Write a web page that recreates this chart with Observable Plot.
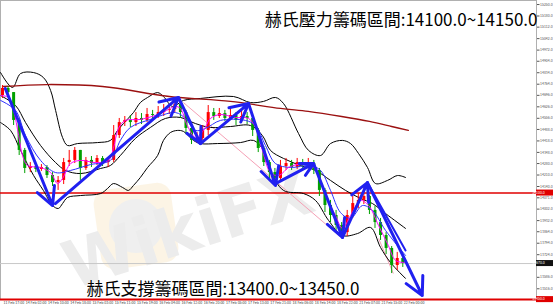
<!DOCTYPE html>
<html><head><meta charset="utf-8">
<script src="https://cdn.jsdelivr.net/npm/d3@7"></script>
<script src="https://cdn.jsdelivr.net/npm/@observablehq/plot@0.6"></script>
<style>html,body{margin:0;padding:0;background:#fff;} svg{display:block;}</style>
</head><body><div id="chart"></div>
<script>
// ---- candles (2-hour bars, hour index = 2*i) ----
const candleOpen = [14695,14738,14713,14543,14360,14250,14262,14244,14256,14207,14164,14177,14286,14299,14360,14250,14299,14280,14311,14286,14299,14451,14530,14543,14530,14555,14543,14579,14573,14591,14604,14610,14640,14591,14494,14421,14433,14482,14591,14567,14585,14555,14573,14543,14567,14555,14482,14372,14286,14225,14189,14262,14280,14256,14286,14268,14280,14238,14116,14024,13963,13902,13859,13963,14036,14055,14079,13994,13920,13841,13762,13658,13701];
const candleClose = [14738,14713,14543,14360,14250,14262,14244,14256,14207,14164,14177,14286,14299,14360,14250,14299,14280,14311,14286,14299,14451,14530,14543,14530,14555,14543,14579,14573,14591,14604,14610,14640,14591,14494,14421,14433,14482,14591,14567,14585,14555,14573,14543,14567,14555,14482,14372,14286,14225,14189,14262,14280,14256,14286,14268,14280,14238,14116,14024,13963,13902,13859,13963,14036,14055,14079,13994,13920,13841,13762,13658,13701,13670];
const candleHigh = [14756,14750,14713,14555,14372,14286,14280,14274,14268,14225,14201,14311,14360,14378,14360,14317,14323,14329,14323,14317,14512,14555,14567,14573,14591,14585,14616,14604,14628,14640,14640,14671,14665,14604,14512,14469,14512,14634,14616,14616,14604,14610,14591,14604,14591,14567,14494,14384,14299,14250,14299,14311,14299,14311,14305,14311,14299,14250,14128,14055,13994,13920,13994,14079,14097,14146,14085,14018,13945,13859,13774,13738,13719];
const candleLow = [14677,14689,14512,14329,14219,14225,14225,14232,14189,14140,14116,14152,14262,14280,14177,14238,14256,14268,14262,14256,14286,14433,14506,14500,14506,14518,14530,14543,14555,14567,14579,14591,14555,14457,14396,14402,14421,14451,14543,14555,14537,14543,14512,14530,14518,14445,14347,14262,14177,14152,14177,14238,14238,14244,14250,14250,14213,14079,13981,13920,13872,13823,13835,13945,14006,14030,13969,13884,13811,13725,13609,13628,13646];
const hoursPerBar = 2;

// ---- indicators (hour index, price) ----
const maLongH = [0,16,36,60,82,100,110,122,132,140,146];
const maLongV = [14750,14762,14750,14689,14659,14616,14598,14567,14537,14506,14482];
const bbUpperH = [-0.7,3.6,6.5,11.2,14.7,17.3,19.1,21.6,23.4,27.0,34.2,38.8,41.4,43.5,47.1,49.6,52.2,55.8,57.9,61.2,65.1,71.2,83.1,89.2,93.9,98.2,101.1,106.5,110.1,114.4,118.0,122.3,125.2,128.1,131.3,134.2,138.5,142.1,145.0];
const bbUpperV = [14835,14744,14829,14835,14805,14726,14604,14439,14390,14402,14408,14421,14482,14524,14591,14652,14683,14713,14689,14628,14665,14677,14689,14652,14659,14683,14646,14463,14360,14329,14402,14421,14402,14341,14256,14158,14177,14207,14195];
const bbMidH = [-0.7,4.7,8.3,13.7,19.1,22.7,28.1,35.3,38.8,42.4,47.8,53.2,58.6,64.0,69.4,74.8,82.0,89.2,93.5,96.4,101.1,107.2,112.6,118.0,123.4,128.8,133.1,137.8,145.0];
const bbMidV = [14695,14634,14530,14390,14286,14238,14219,14250,14268,14329,14433,14500,14555,14561,14524,14500,14506,14512,14451,14360,14311,14268,14238,14177,14116,14067,14036,13975,13884];
const bbLowerH = [-0.7,2.9,6.5,11.2,14.7,18.0,20.1,21.6,23.4,28.1,35.3,37.8,39.9,43.2,45.3,47.1,49.6,52.2,55.8,57.9,60.4,62.9,65.1,68.7,71.2,77.3,85.6,90.3,93.9,96.4,101.1,108.3,112.6,117.3,122.3,127.7,132.4,136.0,139.6,145.0];
const bbLowerV = [14530,14482,14360,14207,14116,14024,14006,14036,14073,14085,14097,14128,14158,14134,14116,14146,14195,14256,14329,14421,14469,14482,14476,14421,14402,14402,14408,14421,14360,14238,14116,14097,14055,13933,13841,13853,13890,13768,13676,13579];
const maFastH = [-0.7,2.2,4.0,5.8,7.2,9.0,13.7,17.3,19.8,21.6,24.5,28.1,33.5,38.1,39.9,41.7,44.2,49.6,56.8,62.2,64.0,66.5,69.4,72.3,74.8,78.4,83.8,88.5,91.0,93.5,96.4,99.3,103.6,110.8,113.7,116.2,119.8,122.3,125.2,128.8,131.7,135.3,138.8,141.4,145.0];
const maFastV = [14695,14683,14604,14451,14329,14268,14256,14225,14158,14189,14280,14299,14286,14299,14372,14494,14543,14549,14585,14628,14616,14512,14439,14482,14555,14579,14561,14555,14500,14360,14225,14207,14262,14274,14207,14085,13963,13884,13963,14055,14024,13902,13780,13689,13676];
const maMidH = [-0.7,4.7,8.3,13.7,19.1,24.5,31.7,38.8,42.4,46.0,53.2,62.2,65.8,69.4,73.0,78.4,87.4,91.0,94.6,98.2,103.6,110.8,114.4,118.0,121.6,125.2,129.5,133.1,137.8,145.0];
const maMidV = [14665,14604,14451,14299,14225,14238,14274,14299,14421,14500,14549,14591,14555,14482,14494,14543,14543,14512,14390,14280,14256,14268,14238,14116,13981,13945,14024,13994,13872,13719];

// ---- drawn arrows & trend lines ----
const arrowFromH = [1, 19, 63.3, 71.2, 88.5, 98.2, 111.9, 122.3, 131.3];
const arrowFromV = [14738, 14036, 14683, 14402, 14646, 14158, 14280, 13829, 14164];
const arrowToH = [18, 63.3, 71.2, 88.5, 98.2, 111.9, 122.3, 131.3, 151];
const arrowToV = [14024, 14683, 14402, 14646, 14146, 14280, 13829, 14164, 13475];
const extraBlueH = [131.3, 145]; const extraBlueV = [14164, 13750];
const trendFromH = [65.1, 135.3]; const trendFromV = [14652, 13823];
const trendToH = [122.3, 140.6]; const trendToV = [13823, 13609];

// ---- levels & labels ----
const resistanceLevel = 14100;
const supportLevel = 13450;
const currentPrice = 13670;
const resistanceText = "赫氏壓力籌碼區間:14100.0~14150.0";
const supportText = "赫氏支撐籌碼區間:13400.0~13450.0";
const yTicks = [15250,15180,15112,15042,14972,14904,14834,14764,14696,14626,14556,14488,14418,14348,14280,14210,14140,14071,14002,13932,13864,13794,13724,13586,13516];
const xLabels = ["11 Feb 17:00","14 Feb 02:00","14 Feb 10:00","14 Feb 18:00","15 Feb 03:00","15 Feb 11:00","15 Feb 19:00","16 Feb 04:00","16 Feb 12:00","16 Feb 20:00","17 Feb 05:00","17 Feb 13:00","17 Feb 21:00","18 Feb 06:00","18 Feb 14:00","18 Feb 22:00","21 Feb 07:00","21 Feb 15:00","22 Feb 00:00"];
const barsPerLabel = 8;

// ---- build tables ----
const candles = candleClose.map((c, i) => ({h: i * hoursPerBar, open: candleOpen[i], close: c, high: candleHigh[i], low: candleLow[i], up: c >= candleOpen[i]}));
const pts = (hs, vs) => hs.map((h, i) => ({h, v: vs[i]}));
const arrows = arrowFromH.map((h, i) => ({h1: h, v1: arrowFromV[i], h2: arrowToH[i], v2: arrowToV[i]}));
const trends = trendFromH.map((h, i) => ({h1: h, v1: trendFromV[i], h2: trendToH[i], v2: trendToV[i]}));
const xLab = xLabels.map((t, i) => ({h: i * barsPerLabel, t}));
const upColor = "#ff0000", downColor = "#00a000";
const lineOpts = (stroke, w) => ({x: "h", y: "v", stroke, strokeWidth: w, curve: "catmull-rom"});

const plot = Plot.plot({
  width: 553, height: 307,
  marginLeft: 0, marginRight: 17, marginTop: 0, marginBottom: 8,
  x: {domain: [-0.72, 192.1], axis: null},
  y: {domain: [13450.7, 15274.6], axis: null},
  style: {fontFamily: "'Noto Sans CJK TC', 'Noto Sans', sans-serif", background: "#fff", overflow: "visible"},
  marks: [
    Plot.frame({stroke: "#b0b0b0"}),
    Plot.ruleY([currentPrice], {stroke: "#c8c8c8", strokeWidth: 1}),
    Plot.ruleY([resistanceLevel], {stroke: "#e00000", strokeWidth: 1.6}),
    Plot.ruleY([supportLevel], {stroke: "#e00000", strokeWidth: 2}),
    Plot.link(trends, {x1: "h1", y1: "v1", x2: "h2", y2: "v2", stroke: "#f5a0b5", strokeWidth: 1}),
    Plot.line(pts(bbUpperH, bbUpperV), lineOpts("#000", 1)),
    Plot.line(pts(bbMidH, bbMidV), lineOpts("#000", 1)),
    Plot.line(pts(bbLowerH, bbLowerV), lineOpts("#000", 1)),
    Plot.line(pts(maLongH, maLongV), lineOpts("#9b1010", 1.3)),
    Plot.ruleX(candles, {x: "h", y1: "low", y2: "high", stroke: d => d.up ? upColor : downColor, strokeWidth: 1}),
    Plot.ruleX(candles, {x: "h", y1: "open", y2: "close", stroke: d => d.up ? upColor : downColor, strokeWidth: 3}),
    Plot.line(pts(maMidH, maMidV), lineOpts("#2f2fff", 1)),
    Plot.line(pts(maFastH, maFastV), lineOpts("#ff00ff", 1)),
    Plot.line(pts(extraBlueH, extraBlueV), {x: "h", y: "v", stroke: "#2020f0", strokeWidth: 2}),
    Plot.arrow(arrows, {x1: "h1", y1: "v1", x2: "h2", y2: "v2", stroke: "#2020f0", strokeWidth: 3, headLength: 10, headAngle: 55}),
    Plot.axisY(yTicks, {anchor: "right", tickSize: 2.5, tickPadding: 1, tickFormat: d => d.toFixed(1), fontSize: 3.5, color: "#555", label: null}),
    Plot.text(xLab, {x: "h", frameAnchor: "bottom", dy: 4.5, dx: 1, text: "t", textAnchor: "start", fontSize: 3.6, fill: "#444"}),
    Plot.text([resistanceText], {frameAnchor: "top-right", dx: 1, dy: 20.5, textAnchor: "end", lineAnchor: "middle", fontSize: 17, fill: "#000"}),
    Plot.text([supportText], {frameAnchor: "bottom-left", dx: 86, dy: -9.5, textAnchor: "start", lineAnchor: "middle", fontSize: 17, fill: "#000"})
  ]
});

// price tags on the right axis and faint watermark
const svg = d3.select(plot);
const ys = plot.scale("y");
const tags = [
  {v: resistanceLevel, bg: "#e00000"},
  {v: currentPrice, bg: "#111"},
  {v: supportLevel, bg: "#e00000"}
];
const g = svg.append("g");
tags.forEach(t => {
  const y = ys.apply(t.v);
  g.append("rect").attr("x", 536).attr("y", y - 3).attr("width", 17).attr("height", 6).attr("fill", t.bg);
  g.append("text").attr("x", 538.5).attr("y", y + 1.3).attr("font-size", 3.5).attr("fill", "#fff").text(t.v.toFixed(1));
});
const wm = svg.insert("g", ":first-child").attr("opacity", 0.4);
wm.append("rect").attr("x", 97).attr("y", 186).attr("width", 78).attr("height", 80).attr("rx", 14).attr("fill", "#f8e6c0").attr("transform", "rotate(-8,136,226)");
wm.append("circle").attr("cx", 136).attr("cy", 226).attr("r", 27).attr("fill", "#d8d8d8");
wm.append("text").attr("x", 195).attr("y", 250).attr("font-size", 66).attr("font-weight", "bold")
  .attr("font-family", "'DejaVu Sans', sans-serif").attr("fill", "#d0d0d0")
  .attr("transform", "rotate(-18,195,250)").text("WikiFX");
document.getElementById("chart").appendChild(plot);
</script>
</body></html>
